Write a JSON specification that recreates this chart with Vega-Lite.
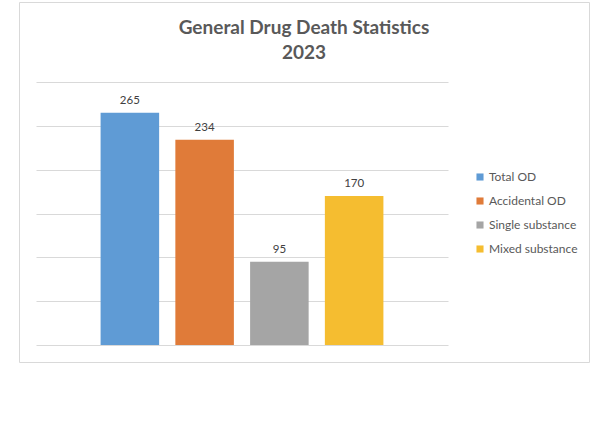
{
  "$schema": "https://vega.github.io/schema/vega-lite/v6.json",
  "width": 570,
  "height": 360,
  "autosize": {"type": "none"},
  "padding": {"left": 19, "top": 2, "right": 11, "bottom": 66},
  "background": "white",
  "config": {
    "font": "Lato",
    "view": {"stroke": "#d9d9d9", "strokeWidth": 1}
  },
  "title": {
    "text": ["General Drug Death Statistics", "2023"],
    "font": "Lato",
    "fontSize": 19,
    "fontWeight": "bold",
    "color": "#595959",
    "anchor": "middle",
    "frame": "group",
    "baseline": "top",
    "lineHeight": 25,
    "offset": -61
  },
  "data": {
    "values": [
      {"category": "Total OD", "deaths": 265},
      {"category": "Accidental OD", "deaths": 234},
      {"category": "Single substance", "deaths": 95},
      {"category": "Mixed substance", "deaths": 170}
    ]
  },
  "encoding": {
    "x": {
      "field": "category",
      "type": "nominal",
      "sort": null,
      "scale": {"range": [17, 429], "paddingInner": 0.217, "paddingOuter": 0.864},
      "axis": null
    },
    "y": {
      "field": "deaths",
      "type": "quantitative",
      "scale": {"domain": [0, 300], "range": [343, 80], "nice": false},
      "axis": {
        "values": [0, 50, 100, 150, 200, 250, 300],
        "grid": true,
        "gridColor": "#d9d9d9",
        "gridWidth": 1,
        "labels": false,
        "ticks": false,
        "domain": false,
        "title": null
      }
    }
  },
  "layer": [
    {
      "mark": {"type": "bar"},
      "encoding": {
        "color": {
          "field": "category",
          "type": "nominal",
          "sort": null,
          "scale": {
            "domain": ["Total OD", "Accidental OD", "Single substance", "Mixed substance"],
            "range": ["#5f9bd5", "#e07b39", "#a5a5a5", "#f5bd30"]
          },
          "legend": {
            "title": null,
            "orient": "none",
            "legendX": 455,
            "legendY": 169,
            "symbolType": "square",
            "symbolSize": 50,
            "symbolStrokeWidth": 0,
            "labelFont": "Lato",
            "labelFontSize": 12,
            "labelColor": "#595959",
            "labelOffset": 3,
            "rowPadding": 12
          }
        }
      }
    },
    {
      "mark": {"type": "text", "baseline": "bottom", "dy": -7, "fontSize": 11.5, "color": "#404040", "font": "Lato"},
      "encoding": {
        "text": {"field": "deaths", "type": "quantitative"}
      }
    }
  ]
}
